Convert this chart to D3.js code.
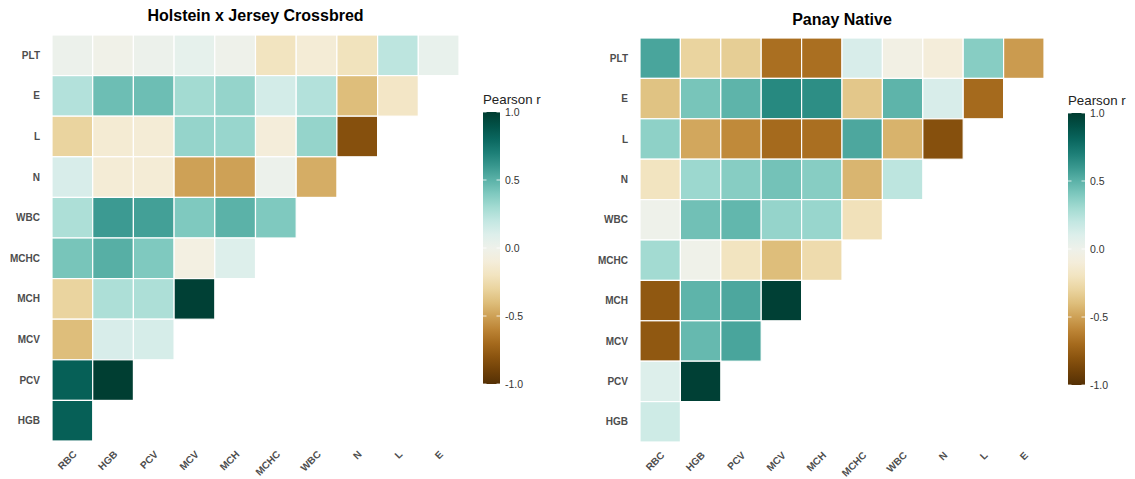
<!DOCTYPE html>
<html>
<head>
<meta charset="utf-8">
<script src="https://cdn.jsdelivr.net/npm/d3@7"></script>
<style>
  html, body { margin: 0; padding: 0; background: #ffffff; }
  svg { display: block; font-family: "Liberation Sans", Arial, sans-serif; }
</style>
</head>
<body>
<svg id="chart" width="1135" height="479"></svg>
<script>
// Columns (x axis) and rows (y axis, top to bottom) of the lower-triangle matrix
const colVars = ["RBC", "HGB", "PCV", "MCV", "MCH", "MCHC", "WBC", "N", "L", "E"];
const rowVars = ["PLT", "E", "L", "N", "WBC", "MCHC", "MCH", "MCV", "PCV", "HGB"];
const legendTicks = [1.0, 0.5, 0.0, -0.5, -1.0];

// Pearson r, one array per row (PLT first), values for RBC, HGB, PCV, ... in order
const holsteinJersey = [
  [0.01, -0.02, 0.01, 0.05, 0.00, -0.20, -0.12, -0.21, 0.22, 0.04],
  [0.25, 0.45, 0.45, 0.30, 0.34, 0.14, 0.25, -0.40, -0.18],
  [-0.30, -0.13, -0.12, 0.34, 0.33, -0.10, 0.34, -0.82],
  [0.12, -0.12, -0.12, -0.50, -0.50, 0.01, -0.46],
  [0.27, 0.59, 0.57, 0.40, 0.50, 0.40],
  [0.42, 0.51, 0.40, -0.06, 0.10],
  [-0.30, 0.27, 0.27, 0.98],
  [-0.40, 0.12, 0.13],
  [0.83, 0.99],
  [0.83]
];

const panayNative = [
  [0.55, -0.30, -0.33, -0.68, -0.68, 0.12, -0.05, -0.10, 0.38, -0.52],
  [-0.38, 0.42, 0.49, 0.66, 0.64, -0.36, 0.49, 0.12, -0.70],
  [0.36, -0.48, -0.58, -0.70, -0.68, 0.54, -0.44, -0.82],
  [-0.20, 0.32, 0.38, 0.43, 0.38, -0.43, 0.22],
  [0.00, 0.44, 0.48, 0.34, 0.33, -0.22],
  [0.30, -0.01, -0.20, -0.40, -0.26],
  [-0.78, 0.49, 0.54, 0.98],
  [-0.78, 0.47, 0.55],
  [0.10, 0.98],
  [0.16]
];

const svg = d3.select("#chart");
const color = d3.scaleSequential(d3.interpolateBrBG).domain([-1, 1]);
const fmt = d3.formatLocale({ decimal: ".", thousands: ",", grouping: [3], currency: ["", ""], minus: "-" }).format(".1f");

// Shared gradient for the colour bars
const defs = svg.append("defs");
const grad = defs.append("linearGradient")
  .attr("id", "rgrad").attr("x1", 0).attr("y1", 1).attr("x2", 0).attr("y2", 0);
d3.range(0, 1.0001, 0.05).forEach(t => {
  grad.append("stop").attr("offset", t).attr("stop-color", color(-1 + 2 * t));
});

function panel(opts) {
  const { title, values, x0, x1, y0, y1, titleY, legendX, legendY0, legendY1 } = opts;
  const g = svg.append("g");

  const x = d3.scaleBand().domain(colVars).range([x0, x1]);
  const y = d3.scaleBand().domain(rowVars).range([y0, y1]);

  const cells = [];
  values.forEach((row, ri) => {
    row.forEach((v, ci) => cells.push({ row: rowVars[ri], col: colVars[ci], v }));
  });

  g.selectAll("rect.cell").data(cells).join("rect")
    .attr("class", "cell")
    .attr("x", d => x(d.col))
    .attr("y", d => y(d.row))
    .attr("width", x.bandwidth())
    .attr("height", y.bandwidth())
    .attr("fill", d => color(d.v))
    .attr("stroke", "#ffffff")
    .attr("stroke-width", 1.2);

  // Title
  g.append("text")
    .attr("x", (x0 + x1) / 2).attr("y", titleY)
    .attr("text-anchor", "middle")
    .attr("font-size", 16).attr("font-weight", "bold").attr("fill", "#000")
    .text(title);

  // Row labels
  g.selectAll("text.ylab").data(rowVars).join("text")
    .attr("class", "ylab")
    .attr("x", x0 - 12)
    .attr("y", d => y(d) + y.bandwidth() / 2)
    .attr("dy", "0.35em")
    .attr("text-anchor", "end")
    .attr("font-size", 10).attr("font-weight", "bold").attr("fill", "#4d4d4d")
    .text(d => d);

  // Column labels, rotated 45 degrees
  g.selectAll("text.xlab").data(colVars).join("text")
    .attr("class", "xlab")
    .attr("text-anchor", "end")
    .attr("font-size", 10).attr("font-weight", "bold").attr("fill", "#4d4d4d")
    .attr("transform", d => `translate(${x(d) + x.bandwidth() / 2 + 5},${y1 + 14}) rotate(-45)`)
    .text(d => d);

  // Colour bar legend
  const barW = 17;
  const ly = d3.scaleLinear().domain([-1, 1]).range([legendY1, legendY0]);
  g.append("text")
    .attr("x", legendX).attr("y", legendY0 - 8)
    .attr("font-size", 13.3).attr("fill", "#222")
    .text("Pearson r");
  g.append("rect")
    .attr("x", legendX).attr("y", legendY0)
    .attr("width", barW).attr("height", legendY1 - legendY0)
    .attr("fill", "url(#rgrad)");
  legendTicks.forEach(t => {
    const ty = ly(t);
    g.append("line").attr("x1", legendX).attr("x2", legendX + 3.5)
      .attr("y1", ty).attr("y2", ty).attr("stroke", "#fff").attr("stroke-width", 0.8);
    g.append("line").attr("x1", legendX + barW - 3.5).attr("x2", legendX + barW)
      .attr("y1", ty).attr("y2", ty).attr("stroke", "#fff").attr("stroke-width", 0.8);
    g.append("text")
      .attr("x", legendX + barW + 5).attr("y", ty).attr("dy", "0.35em")
      .attr("font-size", 10.5).attr("fill", "#333")
      .text(fmt(t));
  });
}

panel({
  title: "Holstein x Jersey Crossbred", values: holsteinJersey,
  x0: 52, x1: 459, y0: 35, y1: 441, titleY: 21,
  legendX: 483, legendY0: 112, legendY1: 384
});

panel({
  title: "Panay Native", values: panayNative,
  x0: 640, x1: 1044, y0: 38, y1: 442, titleY: 25,
  legendX: 1068, legendY0: 113, legendY1: 385
});
</script>
</body>
</html>
